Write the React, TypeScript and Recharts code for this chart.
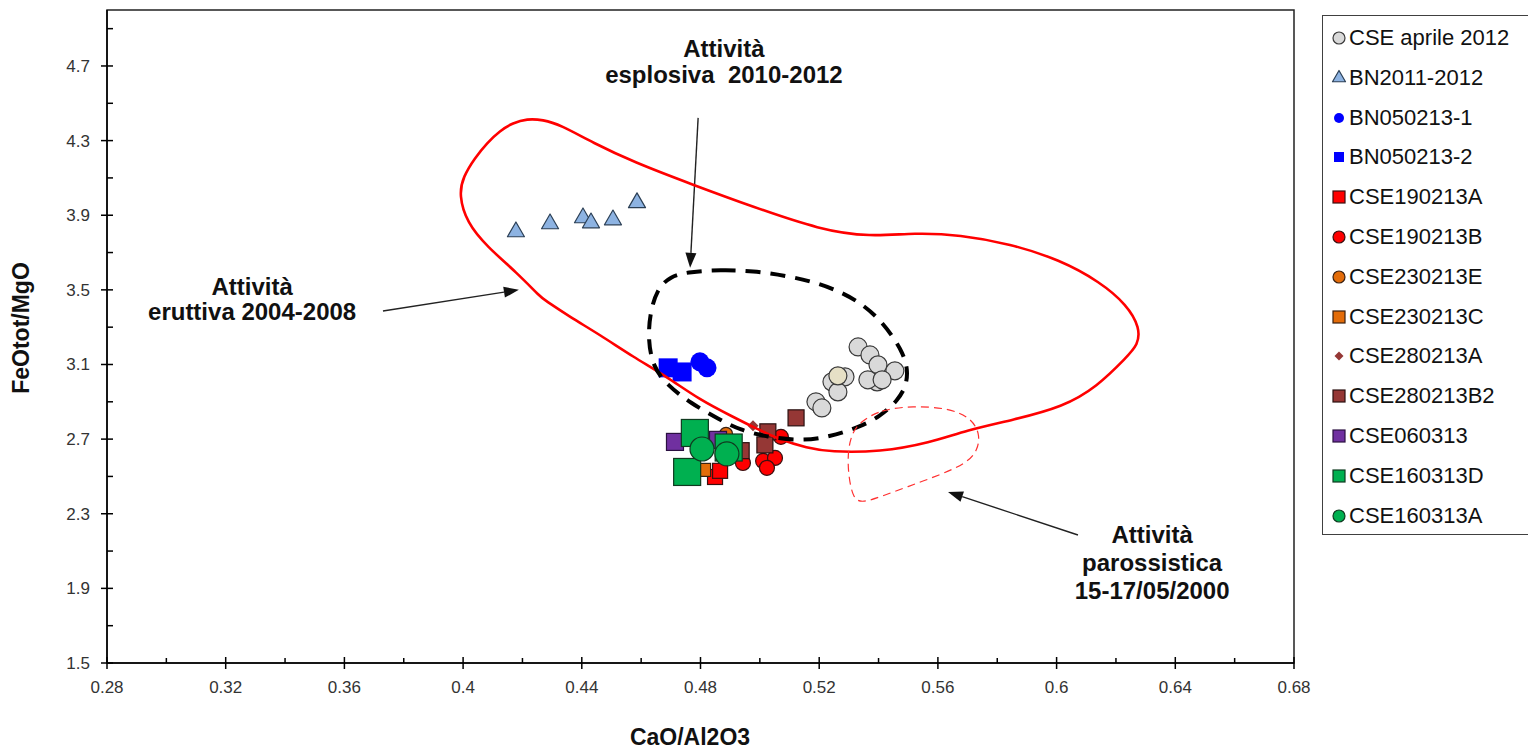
import React from "react";
import {
  ScatterChart,
  Scatter,
  XAxis,
  YAxis,
  ReferenceArea,
  ReferenceLine,
  ReferenceDot,
  Cell,
} from "recharts";

const FONT = '"Liberation Sans", Arial, Helvetica, sans-serif';

// axis ticks
const xMajor = [0.28, 0.32, 0.36, 0.4, 0.44, 0.48, 0.52, 0.56, 0.6, 0.64, 0.68];
const xMinor = [0.3, 0.34, 0.38, 0.42, 0.46, 0.5, 0.54, 0.58, 0.62, 0.66];
const yMajor = [1.5, 1.9, 2.3, 2.7, 3.1, 3.5, 3.9, 4.3, 4.7];
const yMinor = [1.7, 2.1, 2.5, 2.9, 3.3, 3.7, 4.1, 4.5, 4.9];

// samples (CaO/Al2O3, FeOtot/MgO)
const cseAprile2012 = [
  { x: 0.5331, y: 3.194 }, { x: 0.5371, y: 3.151 }, { x: 0.5398, y: 3.098 },
  { x: 0.5455, y: 3.066 }, { x: 0.5395, y: 3.007 }, { x: 0.5364, y: 3.018 },
  { x: 0.5412, y: 3.018 }, { x: 0.5287, y: 3.034 }, { x: 0.5243, y: 3.007 },
  { x: 0.5263, y: 2.953 }, { x: 0.5189, y: 2.9 }, { x: 0.5209, y: 2.867 },
  { x: 0.5263, y: 3.039 },
];
const bn20112012 = [
  { x: 0.4178, y: 3.811 }, { x: 0.4293, y: 3.854 }, { x: 0.4404, y: 3.886 },
  { x: 0.4431, y: 3.859 }, { x: 0.4505, y: 3.875 }, { x: 0.4586, y: 3.967 },
];
const bn0502131 = [{ x: 0.4798, y: 3.114 }, { x: 0.4822, y: 3.082 }];
const bn0502132 = [{ x: 0.4691, y: 3.082 }, { x: 0.4738, y: 3.06 }];
const cse190213A = [{ x: 0.4849, y: 2.497 }, { x: 0.4866, y: 2.53 }];
const cse190213B = [
  { x: 0.4943, y: 2.572 }, { x: 0.5011, y: 2.583 }, { x: 0.5051, y: 2.599 },
  { x: 0.5024, y: 2.546 }, { x: 0.5071, y: 2.712 },
];
const cse230213E = [{ x: 0.4886, y: 2.728 }];
const cse230213C = [{ x: 0.4812, y: 2.535 }];
const cse280213A = [{ x: 0.4977, y: 2.771 }];
const cse280213B2 = [
  { x: 0.5122, y: 2.814 }, { x: 0.5027, y: 2.739 }, { x: 0.5017, y: 2.669 }, { x: 0.4937, y: 2.638 },
];
const cse060313 = [{ x: 0.4714, y: 2.685 }, { x: 0.4859, y: 2.696 }];
const cse160313D = [{ x: 0.4781, y: 2.733 }, { x: 0.4755, y: 2.524 }, { x: 0.4895, y: 2.655 }];
const cse160313A = [{ x: 0.4805, y: 2.647 }, { x: 0.4889, y: 2.621 }];

// field outlines
const eruttivaOutline = [
  { x: 0.3986, y: 4.009 }, { x: 0.4, y: 4.106 }, { x: 0.404, y: 4.208 }, { x: 0.4081, y: 4.288 },
  { x: 0.4124, y: 4.353 }, { x: 0.4168, y: 4.395 }, { x: 0.4215, y: 4.417 }, { x: 0.4269, y: 4.412 },
  { x: 0.4327, y: 4.385 }, { x: 0.4438, y: 4.288 }, { x: 0.4573, y: 4.186 }, { x: 0.4775, y: 4.063 },
  { x: 0.4977, y: 3.945 }, { x: 0.5203, y: 3.822 }, { x: 0.5371, y: 3.784 }, { x: 0.5523, y: 3.806 },
  { x: 0.5674, y: 3.795 }, { x: 0.5843, y: 3.747 }, { x: 0.6011, y: 3.661 }, { x: 0.6146, y: 3.543 },
  { x: 0.6237, y: 3.42 }, { x: 0.6281, y: 3.296 }, { x: 0.6274, y: 3.205 }, { x: 0.6237, y: 3.141 },
  { x: 0.6136, y: 2.98 }, { x: 0.6022, y: 2.873 }, { x: 0.5853, y: 2.803 }, { x: 0.5698, y: 2.749 },
  { x: 0.5573, y: 2.68 }, { x: 0.5405, y: 2.631 }, { x: 0.5236, y: 2.631 }, { x: 0.5159, y: 2.653 },
  { x: 0.5068, y: 2.696 }, { x: 0.4977, y: 2.765 }, { x: 0.491, y: 2.819 }, { x: 0.4798, y: 2.91 },
  { x: 0.4687, y: 3.034 }, { x: 0.4573, y: 3.141 }, { x: 0.4461, y: 3.259 }, { x: 0.436, y: 3.355 },
  { x: 0.4275, y: 3.445 }, { x: 0.4262, y: 3.46 }, { x: 0.4182, y: 3.591 }, { x: 0.4081, y: 3.731 },
  { x: 0.4013, y: 3.859 },
];
const esplosivaOutline = [
  { x: 0.4765, y: 3.597 }, { x: 0.4866, y: 3.607 }, { x: 0.4977, y: 3.602 }, { x: 0.5092, y: 3.575 },
  { x: 0.5193, y: 3.538 }, { x: 0.528, y: 3.484 }, { x: 0.5348, y: 3.42 }, { x: 0.5405, y: 3.339 },
  { x: 0.5449, y: 3.248 }, { x: 0.5482, y: 3.162 }, { x: 0.5499, y: 3.071 }, { x: 0.5493, y: 2.985 },
  { x: 0.5466, y: 2.91 }, { x: 0.5405, y: 2.819 }, { x: 0.5327, y: 2.76 }, { x: 0.5236, y: 2.712 },
  { x: 0.5135, y: 2.69 }, { x: 0.5024, y: 2.712 }, { x: 0.4933, y: 2.749 }, { x: 0.4866, y: 2.803 },
  { x: 0.4765, y: 2.894 }, { x: 0.4687, y: 2.991 }, { x: 0.464, y: 3.087 }, { x: 0.4623, y: 3.232 },
  { x: 0.463, y: 3.377 }, { x: 0.4653, y: 3.5 }, { x: 0.4697, y: 3.574 },
];
const parossisticaOutline = [
  { x: 0.5338, y: 2.792 }, { x: 0.5405, y: 2.857 }, { x: 0.5516, y: 2.878 }, { x: 0.5631, y: 2.867 },
  { x: 0.5708, y: 2.819 }, { x: 0.5742, y: 2.733 }, { x: 0.5735, y: 2.642 }, { x: 0.5698, y: 2.572 },
  { x: 0.5607, y: 2.508 }, { x: 0.5496, y: 2.444 }, { x: 0.5405, y: 2.39 }, { x: 0.5348, y: 2.36 },
  { x: 0.5314, y: 2.375 }, { x: 0.5297, y: 2.519 }, { x: 0.5297, y: 2.642 }, { x: 0.5311, y: 2.733 },
];

// annotations
const eruttivaLabel = ["Attività", "eruttiva 2004-2008"];
const esplosivaLabel = ["Attività", "esplosiva  2010-2012"];
const parossisticaLabel = ["Attività", "parossistica", "15-17/05/2000"];

type Kind = "circle" | "square" | "triangle" | "diamond";

const drawMarker = (kind: Kind, size: number, cx: number, cy: number, fill: string, stroke: string) => {
  const h = size / 2;
  const sw = stroke === "none" ? 0 : 1.2;
  if (kind === "circle") return <circle cx={cx} cy={cy} r={h} fill={fill} stroke={stroke} strokeWidth={sw} />;
  if (kind === "square")
    return <rect x={cx - h} y={cy - h} width={size} height={size} fill={fill} stroke={stroke} strokeWidth={sw} />;
  if (kind === "diamond")
    return (
      <polygon
        points={`${cx},${cy - h} ${cx + h},${cy} ${cx},${cy + h} ${cx - h},${cy}`}
        fill={fill}
        stroke={stroke}
        strokeWidth={sw}
      />
    );
  const th = size * 0.87;
  return (
    <polygon
      points={`${cx},${cy - (th * 2) / 3} ${cx + h},${cy + th / 3} ${cx - h},${cy + th / 3}`}
      fill={fill}
      stroke={stroke}
      strokeWidth={sw}
      strokeLinejoin="round"
    />
  );
};

const series = [
  { name: "CSE aprile 2012", data: cseAprile2012, kind: "circle", size: 18, icon: 12, fill: "#d9d9d9", stroke: "#3a3a3a" },
  { name: "BN2011-2012", data: bn20112012, kind: "triangle", size: 17, icon: 13, fill: "#8db3e2", stroke: "#2b3f55" },
  { name: "BN050213-1", data: bn0502131, kind: "circle", size: 19, icon: 10, fill: "#0000ff", stroke: "none" },
  { name: "BN050213-2", data: bn0502132, kind: "square", size: 19, icon: 10, fill: "#0000ff", stroke: "none" },
  { name: "CSE190213A", data: cse190213A, kind: "square", size: 15, icon: 12, fill: "#ff0000", stroke: "#3a1010" },
  { name: "CSE190213B", data: cse190213B, kind: "circle", size: 15, icon: 12, fill: "#ff0000", stroke: "#3a1010" },
  { name: "CSE230213E", data: cse230213E, kind: "circle", size: 13, icon: 12, fill: "#e36c09", stroke: "#3a2010" },
  { name: "CSE230213C", data: cse230213C, kind: "square", size: 13, icon: 12, fill: "#e36c09", stroke: "#3a2010" },
  { name: "CSE280213A", data: cse280213A, kind: "diamond", size: 11, icon: 9, fill: "#953735", stroke: "none" },
  { name: "CSE280213B2", data: cse280213B2, kind: "square", size: 16, icon: 12, fill: "#953735", stroke: "#2a1010" },
  { name: "CSE060313", data: cse060313, kind: "square", size: 17, icon: 12, fill: "#7030a0", stroke: "#2a1040" },
  { name: "CSE160313D", data: cse160313D, kind: "square", size: 27, icon: 12, fill: "#00b050", stroke: "#103a20" },
  { name: "CSE160313A", data: cse160313A, kind: "circle", size: 24, icon: 12, fill: "#00b050", stroke: "#103a20" },
];

const XTick = (props: any) => {
  const { x, y, payload } = props;
  const major = xMajor.includes(payload.value);
  return (
    <g>
      <line x1={x} x2={x} y1={major ? y - 6 : y - 5} y2={major ? y + 6 : y} stroke="#000" strokeWidth={1.5} />
      {major && (
        <text x={x} y={y + 30} textAnchor="middle" fontFamily={FONT} fontSize={17} fill="#333">
          {payload.value}
        </text>
      )}
    </g>
  );
};

const YTick = (props: any) => {
  const { x, y, payload } = props;
  const major = yMajor.includes(payload.value);
  return (
    <g>
      <line x1={major ? x - 6 : x} x2={x + 6} y1={y} y2={y} stroke="#000" strokeWidth={1.5} />
      {major && (
        <text x={x - 17} y={y + 6} textAnchor="end" fontFamily={FONT} fontSize={17} fill="#333">
          {payload.value}
        </text>
      )}
    </g>
  );
};

const Arrow = (props: any) => {
  const { x1, y1, x2, y2 } = props;
  const a = Math.atan2(y2 - y1, x2 - x1);
  const len = 15;
  const half = 5.5;
  const bx = x2 - len * Math.cos(a);
  const by = y2 - len * Math.sin(a);
  const px = -Math.sin(a) * half;
  const py = Math.cos(a) * half;
  return (
    <g>
      <line x1={x1} y1={y1} x2={bx} y2={by} stroke="#222" strokeWidth={1.4} />
      <polygon points={`${x2},${y2} ${bx + px},${by + py} ${bx - px},${by - py}`} fill="#111" />
    </g>
  );
};

const noteShape = (lines: string[], step: number) => (p: any) => (
  <text
    x={p.cx}
    y={p.cy}
    textAnchor="middle"
    fontFamily={FONT}
    fontWeight="bold"
    fontSize={24}
    fill="#111"
    style={{ whiteSpace: "pre" }}
  >
    {lines.map((l, i) => (
      <tspan key={i} x={p.cx} dy={i === 0 ? 0 : step}>
        {l}
      </tspan>
    ))}
  </text>
);

const hidden = () => <g />;

const Legend = () => (
  <div
    style={{
      position: "absolute",
      left: 1314,
      top: 7,
      width: 208,
      height: 520,
      border: "1.5px solid #404040",
      boxSizing: "border-box",
      background: "#fff",
      fontFamily: FONT,
    }}
  >
    {series.map((s, i) => (
      <div key={s.name} style={{ position: "absolute", left: 0, top: 22 + i * 39.8 - 14, height: 28, width: 206 }}>
        <svg width={24} height={28} style={{ position: "absolute", left: 4, top: 0 }}>
          {drawMarker(s.kind as Kind, s.icon, 12, 14, s.fill, s.stroke)}
        </svg>
        <span
          style={{
            position: "absolute",
            left: 26,
            top: 0,
            lineHeight: "28px",
            fontSize: 22,
            color: "#111",
            whiteSpace: "pre",
          }}
        >
          {s.name}
        </span>
      </div>
    ))}
  </div>
);

export default function App() {
  return (
    <div style={{ position: "relative", width: 1520, height: 741 }}>
      <ScatterChart width={1312} height={741} margin={{ top: 2, right: 26, bottom: 56, left: 39 }}>
        <XAxis
          type="number"
          dataKey="x"
          domain={[0.28, 0.68]}
          ticks={[...xMajor, ...xMinor].sort((a, b) => a - b)}
          interval={0}
          allowDataOverflow
          height={30}
          tickSize={0}
          tickMargin={0}
          tickLine={false}
          axisLine={{ stroke: "#000", strokeWidth: 1.5 }}
          tick={(p: any) => <XTick {...p} />}
        />
        <YAxis
          type="number"
          dataKey="y"
          domain={[1.5, 5.0]}
          ticks={[...yMajor, ...yMinor].sort((a, b) => a - b)}
          interval={0}
          allowDataOverflow
          width={60}
          tickSize={0}
          tickMargin={0}
          tickLine={false}
          axisLine={{ stroke: "#000", strokeWidth: 1.5 }}
          tick={(p: any) => <YTick {...p} />}
        />
        <ReferenceArea x1={0.28} x2={0.68} y1={1.5} y2={5.0} fill="none" fillOpacity={0} stroke="#222" strokeWidth={1.5} />

        {series.map((s) => (
          <Scatter
            key={s.name}
            name={s.name}
            data={s.data}
            fill={s.fill}
            isAnimationActive={false}
            shape={(p: any) => drawMarker(s.kind as Kind, s.size, p.cx, p.cy, p.fill, s.stroke)}
          >
            {s.name === "CSE aprile 2012" &&
              s.data.map((_, i) => <Cell key={i} fill={i === s.data.length - 1 ? "#e6e0c6" : s.fill} />)}
          </Scatter>
        ))}

        <Scatter
          data={eruttivaOutline}
          fill="none"
          line={{ stroke: "#ff0000", strokeWidth: 2.6, fill: "none" }}
          lineJointType="basisClosed"
          shape={hidden}
          legendType="none"
          isAnimationActive={false}
        />
        <Scatter
          data={esplosivaOutline}
          fill="none"
          line={{ stroke: "#000", strokeWidth: 4, strokeDasharray: "15 10", fill: "none" }}
          lineJointType="basisClosed"
          shape={hidden}
          legendType="none"
          isAnimationActive={false}
        />
        <Scatter
          data={parossisticaOutline}
          fill="none"
          line={{ stroke: "#ff3030", strokeWidth: 1.2, strokeDasharray: "8 5", fill: "none" }}
          lineJointType="basisClosed"
          shape={hidden}
          legendType="none"
          isAnimationActive={false}
        />

        <ReferenceLine segment={[{ x: 0.373, y: 3.387 }, { x: 0.4188, y: 3.5 }]} shape={Arrow} />
        <ReferenceLine segment={[{ x: 0.4792, y: 4.422 }, { x: 0.4765, y: 3.618 }]} shape={Arrow} />
        <ReferenceLine segment={[{ x: 0.6072, y: 2.186 }, { x: 0.5634, y: 2.417 }]} shape={Arrow} />

        <ReferenceDot x={0.3289} y={3.473} r={0} shape={noteShape(eruttivaLabel, 25)} />
        <ReferenceDot x={0.4879} y={4.749} r={0} shape={noteShape(esplosivaLabel, 26)} />
        <ReferenceDot x={0.6322} y={2.143} r={0} shape={noteShape(parossisticaLabel, 28)} />

        <text
          x={13}
          y={320}
          transform="rotate(-90 13 320)"
          textAnchor="middle"
          dominantBaseline="central"
          fontFamily={FONT}
          fontWeight="bold"
          fontSize={23}
          fill="#111"
        >
          FeOtot/MgO
        </text>
        <text x={682} y={737} textAnchor="middle" fontFamily={FONT} fontWeight="bold" fontSize={23} fill="#111">
          CaO/Al2O3
        </text>
      </ScatterChart>
      <Legend />
    </div>
  );
}
